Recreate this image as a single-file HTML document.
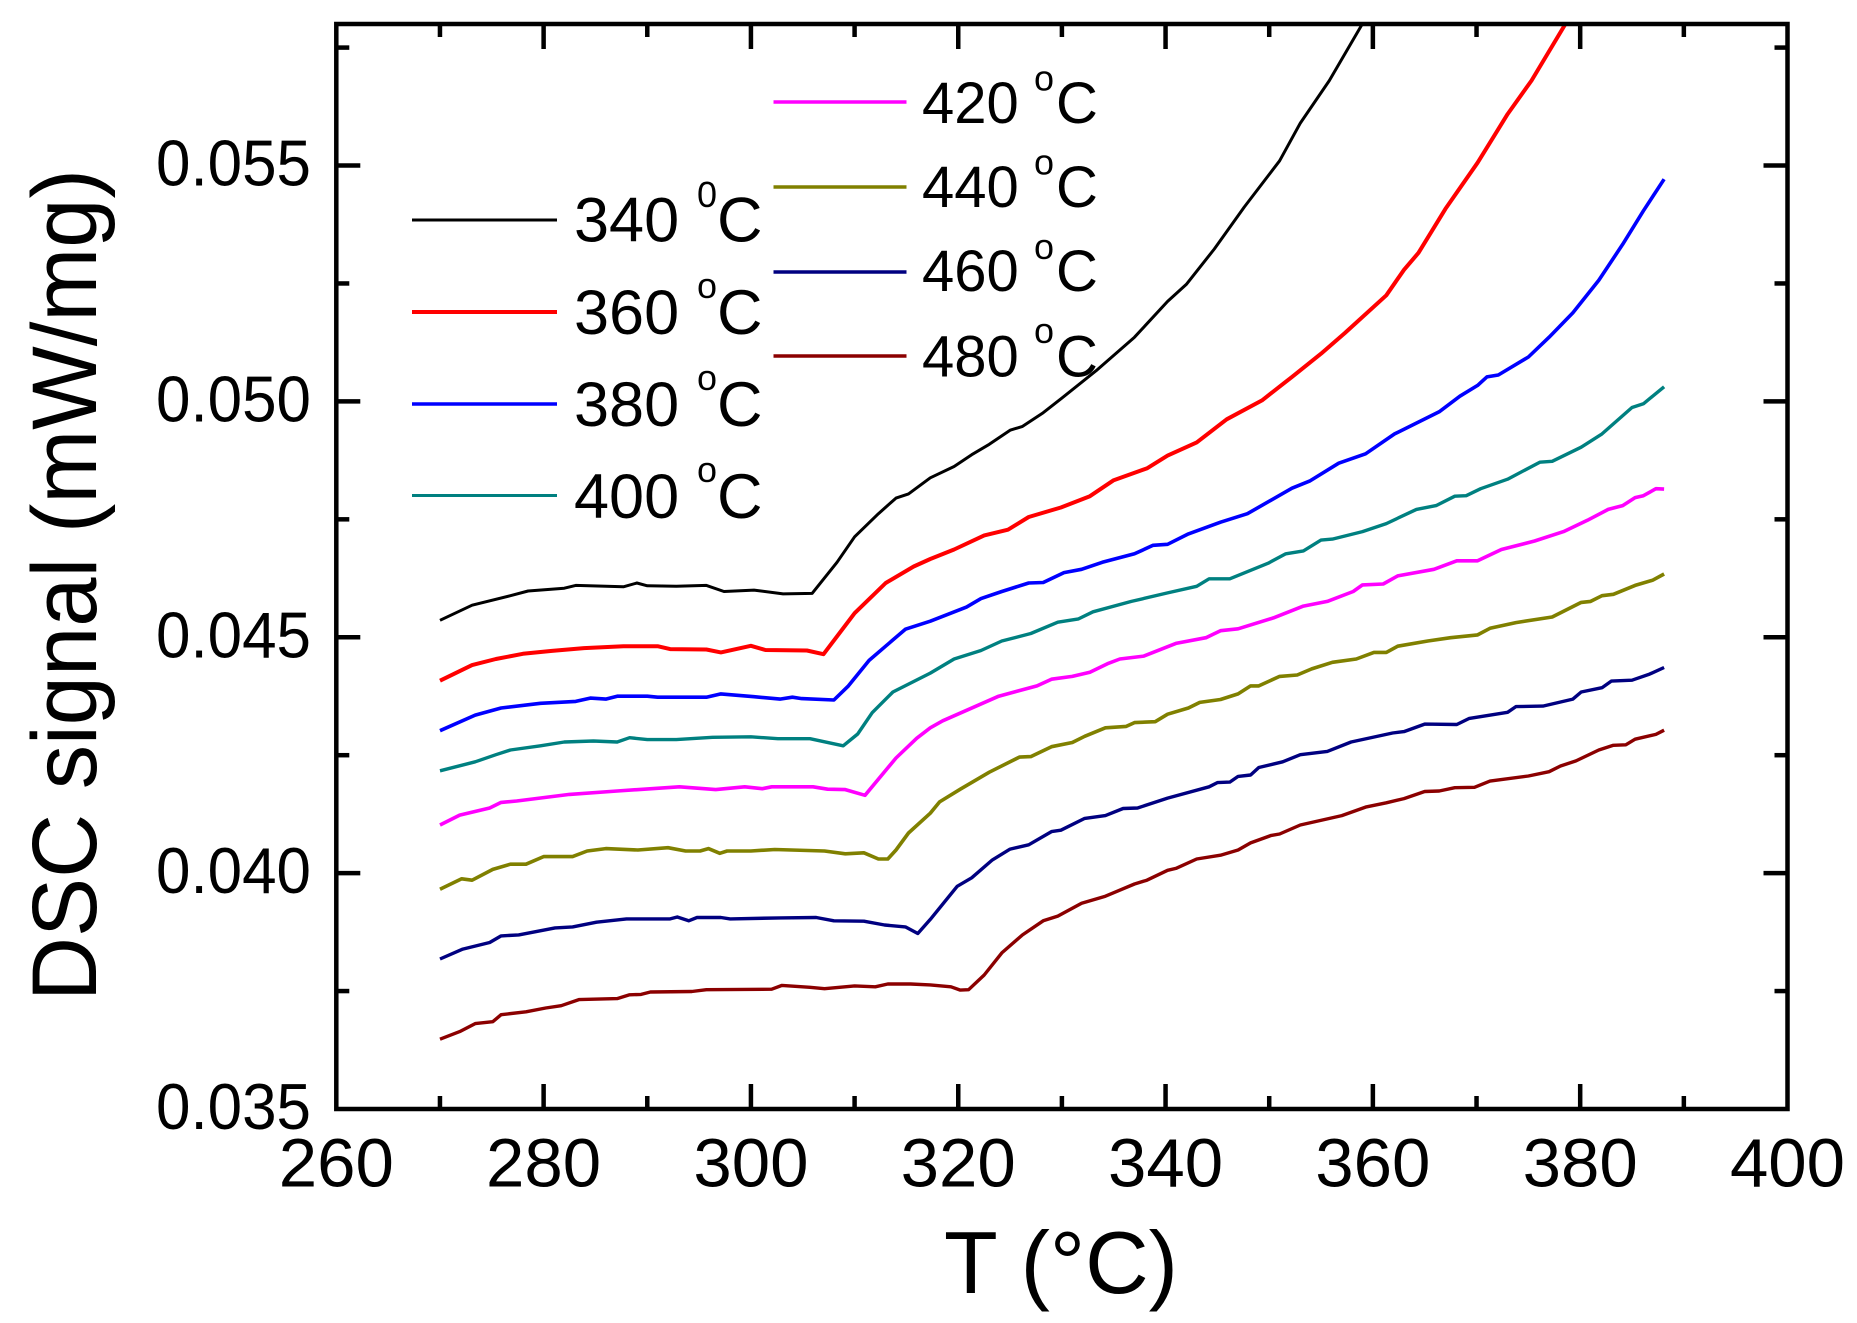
<!DOCTYPE html>
<html lang="en">
<head>
<meta charset="utf-8">
<title>DSC signal vs temperature</title>
<style>
html,body{margin:0;padding:0;background:#fff;}
svg{display:block;}
text{font-family:"Liberation Sans",Arial,sans-serif;fill:#000;}
</style>
</head>
<body>
<svg id="chart" xmlns="http://www.w3.org/2000/svg" width="1857" height="1323" viewBox="0 0 1857 1323">
  <defs><clipPath id="plot-clip"><rect x="336" y="24" width="1452" height="1085"/></clipPath></defs>
  <g id="legend">
    <g>
      <line x1="412" x2="557" y1="220" y2="220" stroke="#000000" stroke-width="3"/>
      <text x="574" y="241.7" font-size="63">340</text>
      <text x="697" y="207" font-size="36">0</text>
      <text x="717" y="241.7" font-size="63">C</text>
    </g>
    <g>
      <line x1="412" x2="557" y1="312" y2="312" stroke="#ff0000" stroke-width="4"/>
      <text x="574" y="334" font-size="63">360</text>
      <text x="697" y="298" font-size="36">o</text>
      <text x="717" y="334" font-size="63">C</text>
    </g>
    <g>
      <line x1="412" x2="557" y1="404" y2="404" stroke="#0000ff" stroke-width="3.5"/>
      <text x="574" y="426" font-size="63">380</text>
      <text x="697" y="390" font-size="36">o</text>
      <text x="717" y="426" font-size="63">C</text>
    </g>
    <g>
      <line x1="412" x2="557" y1="495.5" y2="495.5" stroke="#008080" stroke-width="3"/>
      <text x="574" y="518" font-size="63">400</text>
      <text x="697" y="482" font-size="36">o</text>
      <text x="717" y="518" font-size="63">C</text>
    </g>
    <g>
      <line x1="773.5" x2="906.5" y1="102" y2="102" stroke="#ff00ff" stroke-width="3.5"/>
      <text x="922" y="123" font-size="58">420</text>
      <text x="1034" y="90.5" font-size="36">o</text>
      <text x="1056" y="123" font-size="58">C</text>
    </g>
    <g>
      <line x1="773.5" x2="906.5" y1="187" y2="187" stroke="#808000" stroke-width="3.5"/>
      <text x="922" y="207" font-size="58">440</text>
      <text x="1034" y="174.7" font-size="36">o</text>
      <text x="1056" y="207" font-size="58">C</text>
    </g>
    <g>
      <line x1="773.5" x2="906.5" y1="272" y2="272" stroke="#000080" stroke-width="3.5"/>
      <text x="922" y="291" font-size="58">460</text>
      <text x="1034" y="258.8" font-size="36">o</text>
      <text x="1056" y="291" font-size="58">C</text>
    </g>
    <g>
      <line x1="773.5" x2="906.5" y1="356" y2="356" stroke="#8b0000" stroke-width="3.5"/>
      <text x="922" y="376.7" font-size="58">480</text>
      <text x="1034" y="343" font-size="36">o</text>
      <text x="1056" y="376.7" font-size="58">C</text>
    </g>
  </g>
  <g id="series" clip-path="url(#plot-clip)" fill="none" stroke-linejoin="round"></g>
  <g id="axes"></g>
  <text transform="translate(96,1001) rotate(-90)" font-size="92" textLength="832" lengthAdjust="spacingAndGlyphs">DSC signal (mW/mg)</text>
  <text x="944" y="1293" font-size="88">T (°C)</text>
</svg>
<script>
const xMajorTicks = [260, 280, 300, 320, 340, 360, 380, 400];
const xMinorTicks = [270, 290, 310, 330, 350, 370, 390];
const yMajorTicks = [0.035, 0.040, 0.045, 0.050, 0.055];
const yMinorTicks = [0.0375, 0.0425, 0.0475, 0.0525, 0.0575];
const yTickLabels = ['0.035', '0.040', '0.045', '0.050', '0.055'];
const xTickLabels = ['260', '280', '300', '320', '340', '360', '380', '400'];

const t340 = [270,273.1,276.8,278.5,282,283.1,287.7,289,290,292.8,295.7,297.4,300.3,303.1,305.9,308.3,310,312.3,314,315.2,317.3,319.6,321.3,323,325,326.2,328.2,330,333.3,337,340.2,342,344.7,347.6,351,353,355.8,358.9,359.6];
const v340 = [.04536,.04568,.04588,.04598,.04604,.0461,.04607,.04615,.04609,.04608,.0461,.04597,.046,.04592,.04593,.04659,.04713,.04762,.04795,.04804,.04838,.04862,.04887,.04909,.04939,.04947,.04976,.05007,.05065,.05136,.05212,.05248,.05323,.05412,.0551,.0559,.0568,.05797,.0583];

const t360 = [270,273.1,275.4,278,280.8,283.9,287.7,291,292.2,295.7,297.1,300,301.4,305.4,307,310,313,315.7,317.3,319.6,322.5,324.8,326.8,329.9,332.7,335,338.2,340.2,343,345.9,349.3,352.2,355,357.3,361.3,363,364.4,367,370.1,373,375.3,378.5,379.2];
const v360 = [.04408,.04441,.04454,.04465,.04471,.04477,.04481,.04481,.04475,.04474,.04468,.04482,.04473,.04472,.04464,.04551,.04615,.0465,.04666,.04686,.04716,.04728,.04755,.04775,.04799,.04833,.04858,.04885,.04913,.04962,.05002,.05052,.05101,.05145,.05225,.05279,.05315,.05408,.05506,.05609,.0568,.05797,.0583];

const t380 = [270,273.4,275.9,279.7,283.1,284.5,286,287.1,290,291,295.7,297.1,300.3,302.8,304,304.9,308,309.4,311.4,314.9,317.3,320.8,322.2,324.2,326.8,328.2,330.2,331.9,333.9,337,338.8,340.2,342.2,345.3,347.9,352.2,353.9,356.7,359.3,362.1,366.4,368.4,370.1,371,372.1,375,377,379.3,381.8,384.1,386.1,388.1];
const v380 = [.04302,.04335,.0435,.0436,.04364,.04371,.04369,.04375,.04375,.04373,.04373,.0438,.04374,.04369,.04373,.0437,.04367,.04397,.04451,.04517,.04534,.04564,.04582,.04597,.04615,.04616,.04637,.04644,.04659,.04677,.04695,.04697,.04719,.04744,.04762,.04816,.04831,.04869,.04889,.04931,.04978,.05011,.05034,.05052,.05056,.05094,.05136,.05188,.05257,.05333,.05404,.05471];

const t400 = [270,273.4,275.4,276.8,279.7,282,284.8,287.1,288.3,290,292.8,296.3,300,302.6,305.7,308.9,310.3,311.7,313.7,317.3,319.6,322.2,324.2,327,329.6,331.6,333,336.7,340.2,343,344.2,346.2,349.9,351.6,353.3,355,356.1,359,361.3,364.2,366.1,367.9,369,370.4,373,376.1,377.3,380.1,382.1,385,386.1,388.1];
const v400 = [.04217,.04236,.04251,.04261,.0427,.04278,.0428,.04278,.04287,.04283,.04283,.04288,.04289,.04285,.04285,.0427,.04295,.0434,.04384,.04424,.04454,.04472,.04492,.04508,.04532,.04539,.04554,.04576,.04594,.04608,.04624,.04624,.04657,.04677,.04683,.04706,.04708,.04724,.04741,.04771,.04779,.04799,.048,.04815,.04835,.04871,.04873,.04903,.04931,.04987,.04995,.05031];

const t420 = [270,271.9,274.8,275.9,277.4,282.5,287.1,293.1,296.6,299.4,301.1,302,306,307.4,309.1,311,314,316,317.3,318.5,323.9,327.6,329,331,332.7,334.4,335.6,337.9,341,343.9,345.3,347,350.4,353.3,355.6,358.1,359,361,362.4,365.9,368.1,370.1,372.4,375.6,378.4,380.7,382.7,384.1,385.3,386.1,387.3,388.1];
const v420 = [.04102,.04123,.04138,.0415,.04153,.04167,.04174,.04183,.04177,.04183,.04179,.04183,.04183,.04178,.04177,.04165,.04244,.04286,.04308,.04323,.04375,.04397,.04411,.04417,.04426,.04444,.04454,.0446,.04487,.04499,.04514,.04518,.04541,.04566,.04576,.04597,.04611,.04613,.0463,.04644,.04662,.04662,.04686,.04704,.04724,.04748,.04771,.04779,.04796,.048,.04815,.04814];

const t440 = [270,272.1,273.1,275.1,276.8,278.3,280,282.8,284.2,286,289.1,292,293.7,295.1,295.9,297,297.7,300,302.3,307.1,309.1,310.9,312.3,313.2,314,315.2,317.3,318.2,320.2,323,325.9,327,329,331,332.2,334.2,336.2,337,339,340.2,342.2,343.3,345.3,347,348.2,349,351,352.7,354.1,356.1,358.4,360.1,361.3,362.4,365.3,367.5,370.1,371.3,373.8,377.3,380.1,381,382.1,383.2,385.3,387,388.1];
const v440 = [.03966,.03988,.03985,.04008,.04019,.04019,.04035,.04035,.04047,.04052,.04049,.04054,.04047,.04047,.04052,.04042,.04047,.04047,.0405,.04047,.04041,.04043,.0403,.0403,.04049,.04085,.04127,.04151,.04178,.04214,.04246,.04247,.04268,.04277,.0429,.04308,.04311,.04319,.04321,.04337,.0435,.04362,.04368,.0438,.04397,.04397,.04417,.0442,.04433,.04447,.04454,.04468,.04468,.04481,.04492,.04499,.04505,.04519,.04531,.04543,.04574,.04576,.04588,.04591,.0461,.04621,.04634];

const t460 = [270,272.2,274.8,275.9,277.6,281.1,282.8,285.1,288,292.2,292.9,294,294.8,297.1,298,302.8,306.3,308,310.9,312.9,314.9,316.1,317.3,319.9,321.3,323.3,325,326.8,329,329.9,332.2,334.2,335.9,337.3,340.2,344.2,345,346.2,347,348.2,349,351.3,353,355.6,357.9,361.9,363,365,368.1,369.3,373,373.8,376.4,379.3,380.1,382.1,383,385,386.7,388.1];
const v460 = [.03818,.03839,.03853,.03867,.03869,.03884,.03886,.03896,.03903,.03903,.03907,.03899,.03906,.03906,.03903,.03905,.03906,.03899,.03898,.0389,.03886,.03872,.03902,.03972,.0399,.04028,.04051,.0406,.04088,.04091,.04116,.04122,.04137,.04138,.04159,.04183,.04192,.04193,.04205,.04208,.04224,.04236,.04251,.04258,.04278,.04297,.043,.04316,.04315,.04328,.04341,.04353,.04354,.04369,.04384,.04393,.04407,.04409,.04422,.04436];

const t480 = [270,271.9,273.4,275.1,275.9,278.3,280.2,281.7,283.4,287.1,288.3,289.4,290.3,294.3,295.7,302,303,305.7,307.1,310,312,313.2,315.4,317.3,319.3,320.2,321,322.5,324.2,326.2,328.2,329.6,331.9,334.2,337,338.2,340.2,341,343,345.3,347,348.2,350.2,351,353,357,359.3,361.3,363,365,366.4,367.9,369.8,371.3,375,377,378.1,379.6,381.8,383.2,384.4,385.3,387.3,388.1];
const v480 = [.03648,.03664,.03681,.03685,.037,.03706,.03714,.03719,.03732,.03734,.03742,.03743,.03748,.03749,.03753,.03754,.03762,.03758,.03755,.03761,.03759,.03765,.03765,.03763,.03759,.03752,.03753,.03784,.03831,.03869,.03899,.03909,.03936,.03951,.03977,.03985,.04006,.0401,.0403,.04038,.04049,.04064,.0408,.04083,.04102,.04122,.0414,.04149,.04158,.04173,.04174,.04181,.04182,.04195,.04206,.04215,.04227,.04238,.04261,.04271,.04272,.04284,.04294,.04303];

const NS = 'http://www.w3.org/2000/svg';
const plot = {left: 336.3, right: 1787.5, top: 24, bottom: 1109};
const xDomain = [260, 400];
const yDomain = [0.035, 0.058];
function xScale(t) {
  return plot.left + (t - xDomain[0]) / (xDomain[1] - xDomain[0]) * (plot.right - plot.left);
}
function yScale(v) {
  return plot.bottom - (v - yDomain[0]) / (yDomain[1] - yDomain[0]) * (plot.bottom - plot.top);
}
function make(tag, attrs, parent) {
  const el = document.createElementNS(NS, tag);
  for (const k in attrs) el.setAttribute(k, attrs[k]);
  parent.appendChild(el);
  return el;
}

const seriesGroup = document.getElementById('series');
function drawSeries(name, color, width, temps, values) {
  const d = temps.map((t, i) => (i ? 'L' : 'M') + xScale(t).toFixed(1) + ' ' + yScale(values[i]).toFixed(1)).join(' ');
  const path = make('path', {d: d, stroke: color, 'stroke-width': width}, seriesGroup);
  
  
}
drawSeries('340', '#000000', 3, t340, v340);
drawSeries('360', '#ff0000', 4, t360, v360);
drawSeries('380', '#0000ff', 3.6, t380, v380);
drawSeries('400', '#008080', 3.4, t400, v400);
drawSeries('420', '#ff00ff', 3.6, t420, v420);
drawSeries('440', '#808000', 3.6, t440, v440);
drawSeries('460', '#000080', 3.4, t460, v460);
drawSeries('480', '#8b0000', 3.4, t480, v480);

const axes = document.getElementById('axes');
const frame = make('rect', {x: plot.left, y: plot.top, width: plot.right - plot.left, height: plot.bottom - plot.top, fill: 'none', stroke: '#000', 'stroke-width': 4.5}, axes);



function drawXTick(t, len, kind) {
  const x = xScale(t);
  const bottom = make('line', {x1: x, x2: x, y1: plot.bottom, y2: plot.bottom - len, stroke: '#000', 'stroke-width': 4.5}, axes);
  
  
  const top = make('line', {x1: x, x2: x, y1: plot.top, y2: plot.top + len, stroke: '#000', 'stroke-width': 4.5}, axes);
  
  
}
function drawYTick(v, len, kind) {
  const y = yScale(v);
  const left = make('line', {x1: plot.left, x2: plot.left + len, y1: y, y2: y, stroke: '#000', 'stroke-width': 4.5}, axes);
  
  
  const right = make('line', {x1: plot.right, x2: plot.right - len, y1: y, y2: y, stroke: '#000', 'stroke-width': 4.5}, axes);
  
  
}
xMajorTicks.slice(1, -1).forEach(t => drawXTick(t, 25, 'major'));
xMinorTicks.forEach(t => drawXTick(t, 13, 'minor'));
yMajorTicks.slice(1).forEach(v => drawYTick(v, 24, 'major'));
yMinorTicks.forEach(v => drawYTick(v, 13, 'minor'));

xMajorTicks.forEach((t, i) => {
  const label = make('text', {x: xScale(t), y: 1186.5, 'text-anchor': 'middle', 'font-size': 69}, axes);
  label.textContent = xTickLabels[i];
  
  
});
yMajorTicks.forEach((v, i) => {
  const label = make('text', {x: 311, y: yScale(v) + 20, 'text-anchor': 'end', 'font-size': 65, textLength: 155, lengthAdjust: 'spacingAndGlyphs'}, axes);
  label.textContent = yTickLabels[i];
  
  
});
</script>
</body>
</html>
